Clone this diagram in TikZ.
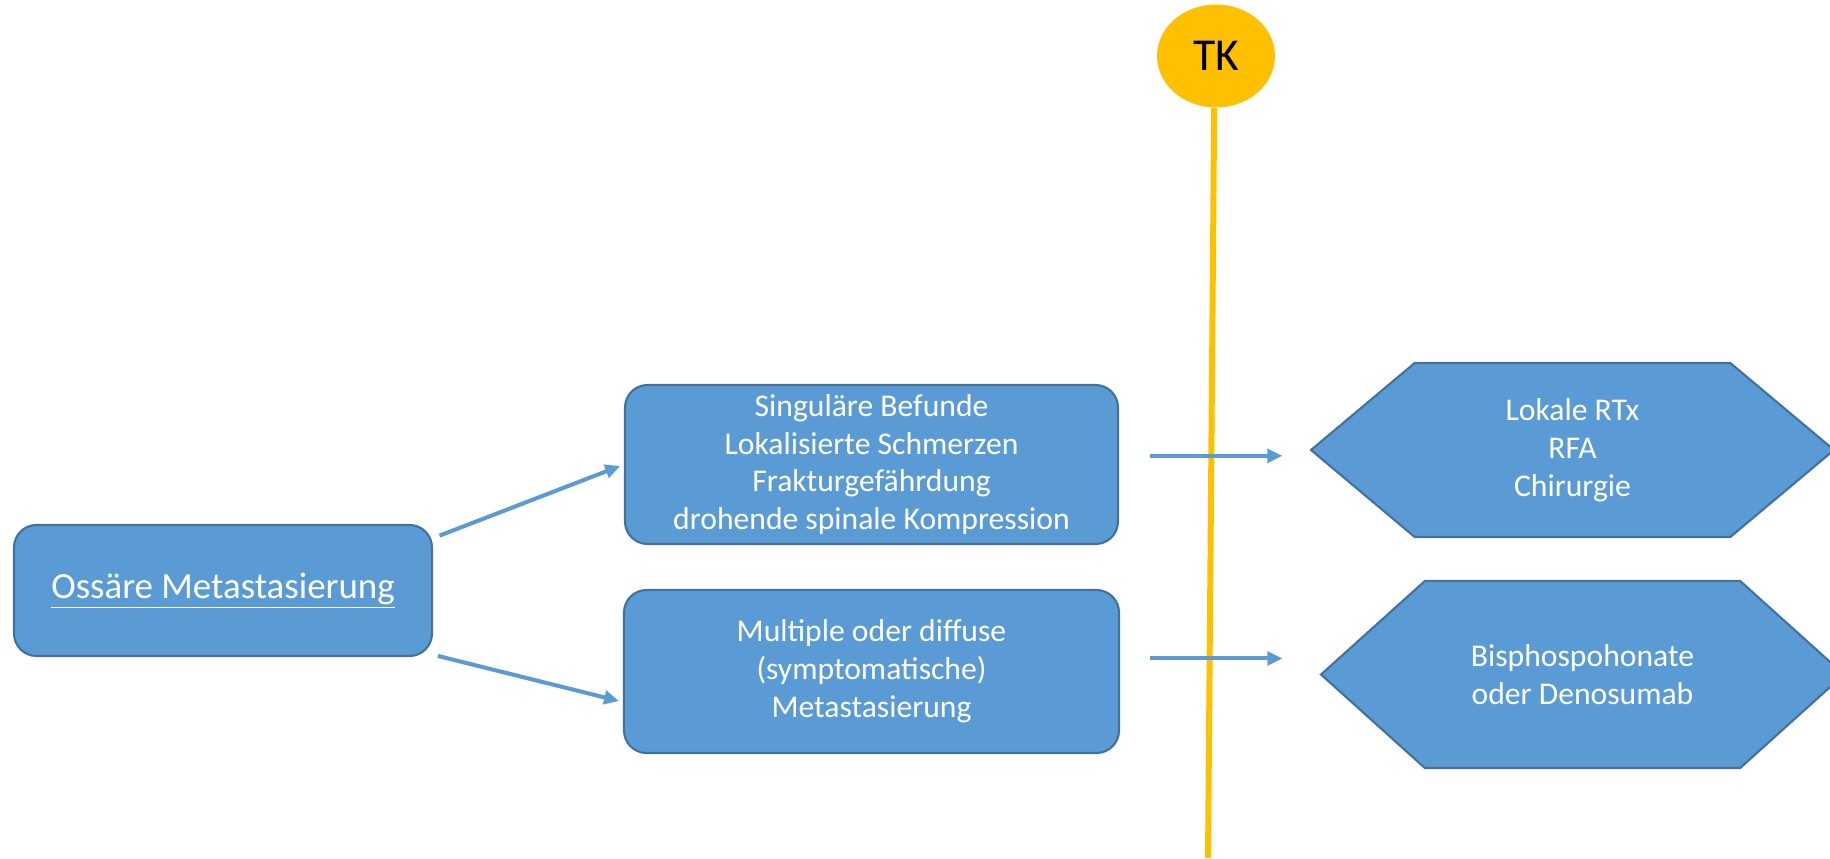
\documentclass[tikz,border=0pt]{standalone}
\usepackage{fontspec}
\setmainfont{Carlito}
\usepackage{xcolor}
\usepackage{tikz}
\usetikzlibrary{positioning}
\usetikzlibrary{calc}
\usetikzlibrary{shapes.geometric,shapes.symbols,arrows.meta}

\definecolor{boxblue}{HTML}{5B9BD5}
\definecolor{boxline}{HTML}{41719C}
\definecolor{tkgold}{HTML}{FFC000}

\begin{document}
\begin{tikzpicture}[auto, on grid, semithick, box/.style ={rectangle, rounded corners=0.45cm, draw=boxline, line width=1.2pt, fill=boxblue, text=white, align=center, font=\fontsize{18}{21.5}\selectfont}, hex/.style={signal, signal to=east and west, signal pointer angle=80, draw=boxline, line width=1.2pt, fill=boxblue, text=white, align=center, font=\fontsize{18}{21.5}\selectfont}, arr/.style={-{Triangle[length=0.3cm,width=0.27cm]}, draw=boxblue, line width=2.3pt}]
	\useasboundingbox (0,0) rectangle (36.6,17.16);
	\node[box, minimum width=8.36cm, minimum height=2.62cm, font=\fontsize{21}{25}\selectfont] (oss) at (4.46,5.35) {\underline{Ossäre Metastasierung}};
	\node[box, minimum width=9.86cm, minimum height=3.18cm] (sing) [above right = 2.52cm and 12.97cm of oss] {Singuläre Befunde\\Lokalisierte Schmerzen\\Frakturgefährdung\\drohende spinale Kompression};
	\node[box, minimum width=9.9cm, minimum height=3.26cm] (mult) [below = 4.14cm of sing] {Multiple oder diffuse\\(symptomatische)\\Metastasierung};
	\node[hex, minimum width=10.46cm, minimum height=3.48cm] (hex1) [above right = 0.29cm and 14.02cm of sing] {Lokale RTx\\RFA\\Chirurgie};
	\node[hex, minimum width=10.46cm, minimum height=3.74cm, signal pointer angle=84] (hex2) [below right = 0.06cm and 14.22cm of mult] {Bisphospohonate\\oder Denosumab};
	\node[ellipse, fill=tkgold, minimum width=2.36cm, minimum height=2.06cm, inner sep=0pt, font=\fontsize{26}{30}\selectfont] (tk) at (24.32,16.04) {TK};
	\coordinate (tkend) at (24.16,0);
	% Zeitachse
	\draw[tkgold, line width=3.4pt] (tk.268) -- (tkend);
	\draw[arr, shorten <=0.14cm, shorten >=0.08cm] (oss.14) -- (sing.west);
	\draw[arr, shorten <=0.1cm, shorten >=0.08cm] (oss.-17) -- (mult.187);
	\draw[arr, shorten <=0.62cm, shorten >=0.54cm] (sing.2) -- (sing.2 -| hex1.west);
	\draw[arr, shorten <=0.6cm, shorten >=0.74cm] (mult.3) -- (mult.3 -| hex2.west);
\end{tikzpicture}
\end{document}
